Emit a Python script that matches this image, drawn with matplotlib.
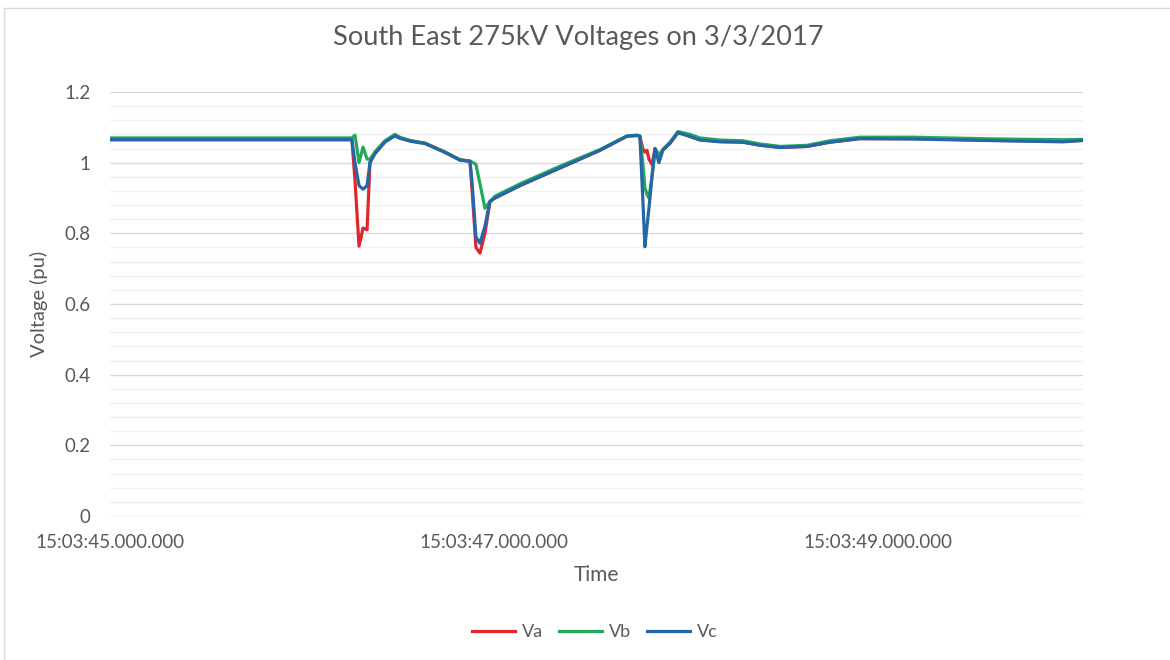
import matplotlib
matplotlib.use("Agg")
import matplotlib.pyplot as plt
from matplotlib.lines import Line2D
import numpy as np

# time in seconds after 15:03:45.000
t_sec = [0.0, 1.0, 1.26, 1.276, 1.297, 1.318, 1.339, 1.354, 1.38, 1.432, 1.484,
         1.51, 1.5625, 1.641, 1.745, 1.823, 1.875, 1.885, 1.906, 1.927, 1.953,
         1.979, 2.005, 2.135, 2.344, 2.552, 2.693, 2.745, 2.76, 2.775, 2.786,
         2.797, 2.807, 2.823, 2.839, 2.859, 2.88, 2.917, 2.958, 3.021, 3.073,
         3.177, 3.297, 3.385, 3.49, 3.63, 3.75, 3.906, 4.182, 4.359, 4.635,
         4.964, 5.068]

va = [1.065, 1.065, 1.065, 0.95, 0.764, 0.815, 0.81, 1.0, 1.03, 1.06, 1.077,
      1.07, 1.062, 1.055, 1.03, 1.008, 1.004, 0.93, 0.76, 0.744, 0.80,
      0.89, 0.90, 0.935, 0.985, 1.035, 1.075, 1.077, 1.075, 1.04, 1.03,
      1.035, 1.01, 0.995, 1.04, 1.02, 1.036, 1.055, 1.085, 1.075, 1.065,
      1.06, 1.058, 1.05, 1.043, 1.046, 1.058, 1.068, 1.068, 1.066, 1.063,
      1.06, 1.063]

vb = [1.07, 1.07, 1.07, 1.078, 1.0, 1.044, 1.01, 1.01, 1.03, 1.062, 1.08,
      1.072, 1.063, 1.055, 1.03, 1.008, 1.005, 1.002, 0.995, 0.94, 0.871,
      0.89, 0.905, 0.94, 0.99, 1.037, 1.076, 1.078, 1.075, 1.0, 0.93,
      0.91, 0.90, 0.96, 1.04, 1.02, 1.038, 1.058, 1.088, 1.08, 1.07,
      1.064, 1.062, 1.053, 1.046, 1.049, 1.062, 1.072, 1.072, 1.07, 1.067,
      1.065, 1.066]

vc = [1.065, 1.065, 1.065, 1.0, 0.935, 0.925, 0.935, 1.0, 1.025, 1.058, 1.076,
      1.069, 1.061, 1.054, 1.029, 1.007, 1.004, 0.95, 0.79, 0.772, 0.82,
      0.89, 0.90, 0.935, 0.985, 1.035, 1.075, 1.077, 1.075, 0.90, 0.762,
      0.82, 0.87, 0.96, 1.04, 1.0, 1.036, 1.055, 1.085, 1.074, 1.064,
      1.059, 1.058, 1.049, 1.043, 1.046, 1.058, 1.068, 1.067, 1.065, 1.062,
      1.059, 1.063]

x_ticks = [0, 2, 4]
x_ticklabels = ["15:03:45.000.000", "15:03:47.000.000", "15:03:49.000.000"]
y_ticks = [0, 0.2, 0.4, 0.6, 0.8, 1.0, 1.2]
y_ticklabels = ["0", "0.2", "0.4", "0.6", "0.8", "1", "1.2"]

FONT = ["Lato", "DejaVu Sans"]
plt.rcParams["font.family"] = FONT
GRAY = "#595959"

fig = plt.figure(figsize=(11.7, 6.6), dpi=100)
# outer chart border (only left and top visible in the crop)
fig.add_artist(Line2D([4/1170, 4/1170], [0, 1-8/660], transform=fig.transFigure,
                      color="#D9D9D9", linewidth=1.0))
fig.add_artist(Line2D([4/1170, 1], [1-8/660, 1-8/660], transform=fig.transFigure,
                      color="#D9D9D9", linewidth=1.0))

ax = fig.add_axes([110/1170, 1-516/660, (1083-110)/1170, (516-92)/660])
ax.set_xlim(0, 5.068)
ax.set_ylim(0, 1.2)

for y in np.arange(0.04, 1.2, 0.04):
    if abs(round(y / 0.2) * 0.2 - y) > 1e-6:
        ax.axhline(y, color="#F0F0F0", linewidth=0.9, zorder=0)
for y in y_ticks:
    ax.axhline(y, color="#D9D9D9", linewidth=1.0, zorder=0.5)

ax.plot(t_sec, va, color="#E0262B", linewidth=2.3, label="Va", zorder=2)
ax.plot(t_sec, vb, color="#24A85C", linewidth=2.3, label="Vb", zorder=3)
ax.plot(t_sec, vc, color="#2467A6", linewidth=2.3, label="Vc", zorder=4)

for s in ax.spines.values():
    s.set_visible(False)
ax.set_xticks(x_ticks)
ax.set_xticklabels(x_ticklabels)
ax.set_yticks(y_ticks)
ax.set_yticklabels(y_ticklabels)
ax.tick_params(axis="both", length=0, labelcolor=GRAY, labelsize=13.5)
ax.tick_params(axis="x", pad=13)
ax.tick_params(axis="y", pad=14)

ax.set_xlabel("Time", color=GRAY, fontsize=15, labelpad=10)
ax.set_ylabel("Voltage (pu)", color=GRAY, fontsize=14.5, labelpad=12)

fig.text(578/1170, 1-38/660, "South East 275kV Voltages on 3/3/2017", ha="center",
         va="center", color=GRAY, fontsize=19.6)

fig.legend(loc="center", bbox_to_anchor=(595/1170, 1-632/660), ncol=3, frameon=False,
           fontsize=13, handlelength=2.4, handletextpad=0.4, columnspacing=0.85,
           labelcolor=GRAY)

fig.savefig("out.png", dpi=100)
